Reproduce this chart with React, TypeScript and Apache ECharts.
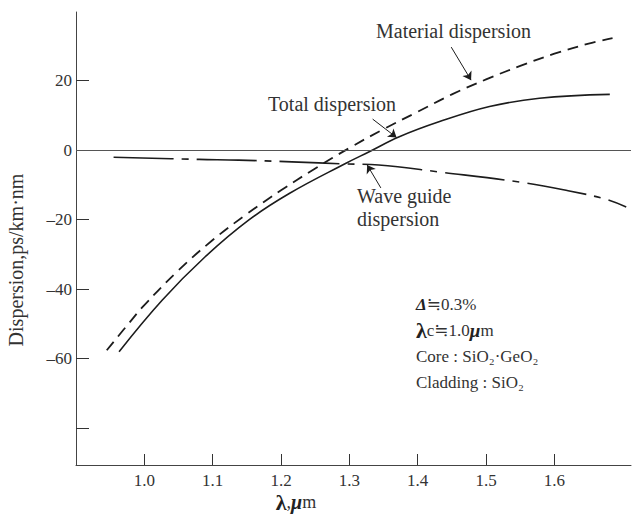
import React, { useEffect, useRef } from "react";
import * as echarts from "echarts";

const xTicks = [1.0, 1.1, 1.2, 1.3, 1.4, 1.5, 1.6];
const yLabelValues = [20, 0, -20, -40, -60];
const yTickValues = [20, 0, -20, -40, -60, -80];

const materialLambda = [0.945, 0.98, 1.0, 1.05, 1.1, 1.15, 1.2, 1.25, 1.3, 1.35, 1.4, 1.45, 1.5, 1.55, 1.6, 1.65, 1.685];
const materialValues = [-57.6, -49.2, -44.6, -34.6, -25.9, -18.4, -11.6, -5.3, 0.6, 6.0, 11.0, 16.0, 20.3, 24.2, 27.7, 30.6, 32.2];

const totalLambda = [0.963, 1.026, 1.089, 1.153, 1.212, 1.295, 1.329, 1.373, 1.431, 1.505, 1.578, 1.681];
const totalValues = [-58.0, -43.2, -30.7, -20.1, -12.5, -3.8, -0.5, 3.8, 8.1, 12.5, 14.9, 16.0];

const waveLambda = [0.955, 1.08, 1.138, 1.216, 1.294, 1.343, 1.431, 1.559, 1.62, 1.676, 1.705];
const waveValues = [-2.1, -2.7, -2.9, -3.4, -4.0, -4.3, -6.3, -9.5, -11.7, -14.2, -16.4];

// arrows: [fromLambda, fromValue, toLambda, toValue]
const arrowMaterial = [1.449, 29.6, 1.478, 20.1];
const arrowTotal = [1.334, 8.9, 1.369, 3.6];
const arrowWave = [1.346, -10.9, 1.326, -4.3];

const FONT = "'Liberation Serif', 'DejaVu Serif', serif";
const INK = "#1c1c1c";
const TXT = "#333";

function pairs(xs: number[], ys: number[]) {
  return xs.map((x, i) => [x, ys[i]]);
}

export default function App() {
  const ref = useRef<HTMLDivElement>(null);
  useEffect(() => {
    if (!ref.current) return;
    const chart = echarts.init(ref.current, undefined, { renderer: "svg" });
    const arrow = (a: number[]) => ({ coords: [[a[0], a[1]], [a[2], a[3]]] });
    chart.setOption({
      animation: false,
      backgroundColor: "#ffffff",
      grid: { left: 76, right: 2, top: 12, bottom: 49 },
      xAxis: {
        type: "value",
        min: 0.9,
        max: 1.712,
        axisLine: { show: true, onZero: false, lineStyle: { color: "#444", width: 1 } },
        axisTick: { show: true, inside: true, length: 11, customValues: xTicks, lineStyle: { color: "#333" } },
        axisLabel: {
          customValues: xTicks,
          formatter: (v: number) => v.toFixed(1),
          fontFamily: FONT,
          fontSize: 17,
          color: TXT,
          margin: 7,
        },
        splitLine: { show: false },
      },
      yAxis: {
        type: "value",
        min: -90.6,
        max: 39.7,
        axisLine: { show: true, onZero: false, lineStyle: { color: "#444", width: 1 } },
        axisTick: { show: true, inside: true, length: 13, customValues: yTickValues, lineStyle: { color: "#333" } },
        axisLabel: {
          customValues: yLabelValues,
          formatter: (v: number) => (v < 0 ? "–" + Math.abs(v) : String(v)),
          fontFamily: FONT,
          fontSize: 17,
          color: TXT,
          margin: 4,
        },
        splitLine: { show: false },
      },
      series: [
        {
          name: "Material dispersion",
          type: "line",
          data: pairs(materialLambda, materialValues),
          smooth: 0.4,
          showSymbol: false,
          lineStyle: { color: INK, width: 1.8, type: [11, 7] },
          silent: true,
        },
        {
          name: "Total dispersion",
          type: "line",
          data: pairs(totalLambda, totalValues),
          smooth: 0.4,
          showSymbol: false,
          lineStyle: { color: INK, width: 1.6, type: "solid" },
          silent: true,
          markLine: {
            silent: true,
            symbol: ["none", "none"],
            label: { show: false },
            lineStyle: { color: "#555", width: 1, type: "solid" },
            data: [{ yAxis: 0 }],
          },
        },
        {
          name: "Wave guide dispersion",
          type: "line",
          data: pairs(waveLambda, waveValues),
          smooth: 0.4,
          showSymbol: false,
          lineStyle: { color: INK, width: 1.6, type: [60, 8, 7, 8] },
          silent: true,
        },
        {
          type: "lines",
          coordinateSystem: "cartesian2d",
          symbol: ["none", "arrow"],
          symbolSize: 8,
          lineStyle: { color: INK, width: 1, opacity: 1 },
          silent: true,
          data: [arrow(arrowMaterial), arrow(arrowTotal), arrow(arrowWave)],
        },
      ],
      graphic: [
        { type: "text", x: 376, y: 31, style: { text: "Material dispersion", font: `20px ${FONT}`, fill: TXT, verticalAlign: "middle" } },
        { type: "text", x: 268, y: 104, style: { text: "Total dispersion", font: `20px ${FONT}`, fill: TXT, verticalAlign: "middle" } },
        { type: "text", x: 357, y: 196, style: { text: "Wave guide", font: `20px ${FONT}`, fill: TXT, verticalAlign: "middle" } },
        { type: "text", x: 357, y: 219, style: { text: "dispersion", font: `20px ${FONT}`, fill: TXT, verticalAlign: "middle" } },
        {
          type: "text",
          x: 416,
          y: 304,
          style: {
            text: "{i|Δ}≒0.3%",
            font: `17px ${FONT}`,
            fill: TXT,
            verticalAlign: "middle",
            rich: { i: { fontStyle: "italic", fontWeight: "bold", fontSize: 17, fontFamily: FONT, fill: "#222" } },
          },
        },
        {
          type: "text",
          x: 416,
          y: 330,
          style: {
            text: "{b|λ}c≒1.0{m|μ}m",
            font: `17px ${FONT}`,
            fill: TXT,
            verticalAlign: "middle",
            rich: {
              b: { fontWeight: "bold", fontSize: 22, fontFamily: FONT, fill: "#222" },
              m: { fontStyle: "italic", fontWeight: "bold", fontSize: 19, fontFamily: FONT, fill: "#222" },
            },
          },
        },
        { type: "text", x: 416, y: 356, style: { text: "Core : SiO₂·GeO₂", font: `17px ${FONT}`, fill: TXT, verticalAlign: "middle" } },
        { type: "text", x: 416, y: 382, style: { text: "Cladding : SiO₂", font: `17px ${FONT}`, fill: TXT, verticalAlign: "middle" } },
        {
          type: "text",
          x: 16,
          y: 260,
          rotation: Math.PI / 2,
          style: { text: "Dispersion,ps/km·nm", font: `20px ${FONT}`, fill: TXT, align: "center", verticalAlign: "middle" },
        },
        {
          type: "text",
          x: 296,
          y: 502,
          style: {
            text: "{b|λ},{m|μ}m",
            font: `18px ${FONT}`,
            fill: TXT,
            align: "center",
            verticalAlign: "middle",
            lineHeight: 18,
            rich: {
              b: { fontWeight: "bold", fontSize: 22, lineHeight: 18, fontFamily: FONT, fill: "#222" },
              m: { fontStyle: "italic", fontWeight: "bold", fontSize: 20, lineHeight: 18, fontFamily: FONT, fill: "#222" },
            },
          },
        },
      ],
    });
    return () => chart.dispose();
  }, []);
  return <div ref={ref} style={{ position: "absolute", left: 0, top: 0, width: 633, height: 514 }} />;
}
